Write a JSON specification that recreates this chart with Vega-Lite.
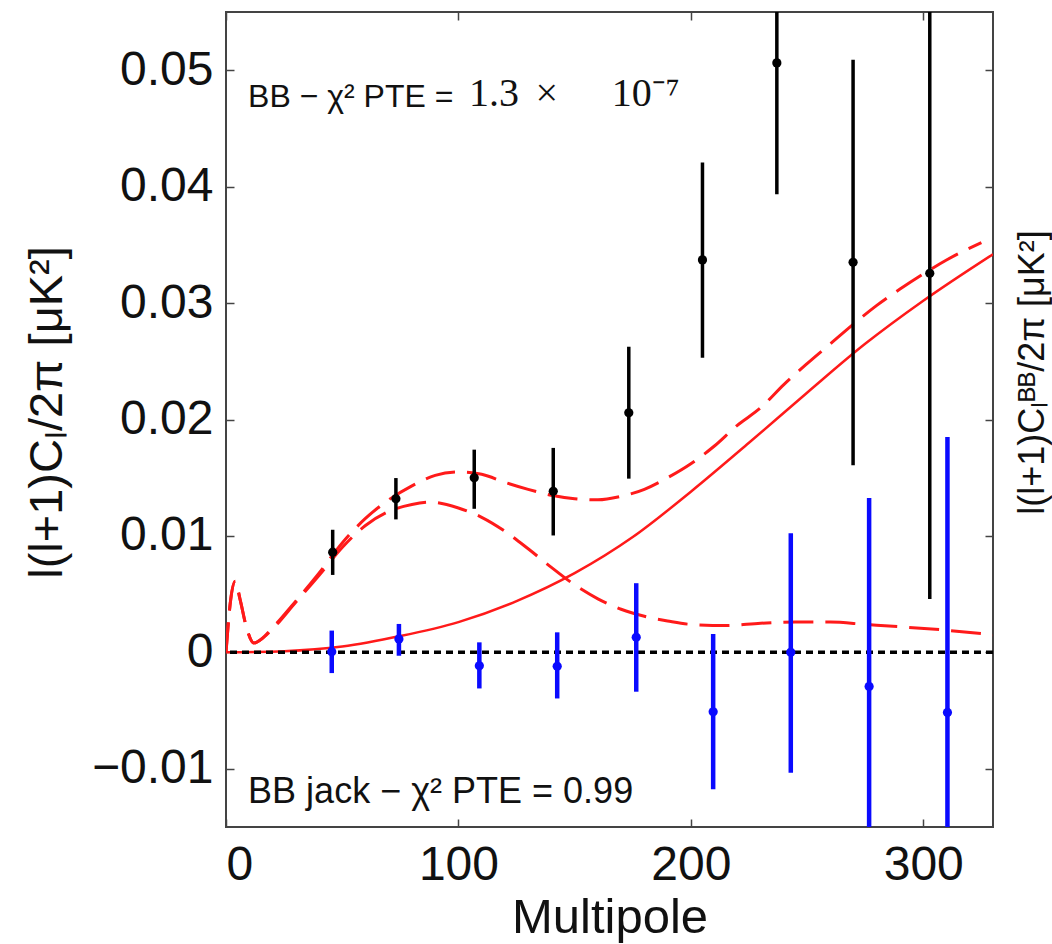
{
  "$schema": "https://vega.github.io/schema/vega-lite/v6.json",
  "width": 767,
  "height": 815,
  "autosize": "none",
  "padding": {"left": 226, "top": 12, "right": 59, "bottom": 117},
  "background": "white",
  "config": {
    "view": {"stroke": "#444", "strokeWidth": 2},
    "font": "Liberation Sans",
    "axis": {"grid": false, "domain": false, "tickColor": "#444", "tickWidth": 1.5, "tickSize": -8, "labelFont": "Liberation Sans", "titleFont": "Liberation Sans", "labelColor": "#111", "titleColor": "#111", "titleFontWeight": "normal"}
  },
  "datasets": {
    "one": [{"k": 1}],
    "solid": [
      {"ell": 0, "cl": 0}, {"ell": 25, "cl": 0.0001}, {"ell": 50, "cl": 0.0005}, {"ell": 75, "cl": 0.0014},
      {"ell": 100, "cl": 0.0026}, {"ell": 125, "cl": 0.0044}, {"ell": 150, "cl": 0.0068}, {"ell": 175, "cl": 0.0099},
      {"ell": 200, "cl": 0.0138}, {"ell": 225, "cl": 0.018}, {"ell": 250, "cl": 0.0223}, {"ell": 275, "cl": 0.0265},
      {"ell": 300, "cl": 0.0302}, {"ell": 330, "cl": 0.0342}
    ],
    "tensor": [
      {"ell": 0, "cl": 0}, {"ell": 2, "cl": 0.0045}, {"ell": 4, "cl": 0.0061}, {"ell": 6, "cl": 0.0046},
      {"ell": 9, "cl": 0.002}, {"ell": 12, "cl": 0.0008}, {"ell": 15, "cl": 0.0011}, {"ell": 20, "cl": 0.002},
      {"ell": 30, "cl": 0.0043}, {"ell": 40, "cl": 0.0066}, {"ell": 50, "cl": 0.009}, {"ell": 60, "cl": 0.0109},
      {"ell": 70, "cl": 0.0121}, {"ell": 80, "cl": 0.0127}, {"ell": 88, "cl": 0.0129}, {"ell": 100, "cl": 0.0124},
      {"ell": 110, "cl": 0.0116}, {"ell": 120, "cl": 0.0104}, {"ell": 130, "cl": 0.0089}, {"ell": 140, "cl": 0.0073},
      {"ell": 150, "cl": 0.0058}, {"ell": 160, "cl": 0.0046}, {"ell": 170, "cl": 0.0037}, {"ell": 180, "cl": 0.0031},
      {"ell": 190, "cl": 0.0027}, {"ell": 200, "cl": 0.0024}, {"ell": 215, "cl": 0.0023}, {"ell": 230, "cl": 0.0025},
      {"ell": 245, "cl": 0.0026}, {"ell": 260, "cl": 0.0026}, {"ell": 275, "cl": 0.0024}, {"ell": 290, "cl": 0.0022},
      {"ell": 310, "cl": 0.0019}, {"ell": 330, "cl": 0.0015}
    ],
    "total": [
      {"ell": 0, "cl": 0}, {"ell": 2, "cl": 0.0045}, {"ell": 4, "cl": 0.0061}, {"ell": 6, "cl": 0.0046},
      {"ell": 9, "cl": 0.002}, {"ell": 12, "cl": 0.0008}, {"ell": 15, "cl": 0.0011}, {"ell": 20, "cl": 0.0021},
      {"ell": 30, "cl": 0.0044}, {"ell": 40, "cl": 0.0068}, {"ell": 50, "cl": 0.0094}, {"ell": 60, "cl": 0.0115},
      {"ell": 70, "cl": 0.0131}, {"ell": 80, "cl": 0.0143}, {"ell": 90, "cl": 0.0152}, {"ell": 100, "cl": 0.0155},
      {"ell": 110, "cl": 0.0153}, {"ell": 120, "cl": 0.0146}, {"ell": 130, "cl": 0.014}, {"ell": 140, "cl": 0.0135},
      {"ell": 150, "cl": 0.0132}, {"ell": 160, "cl": 0.0131}, {"ell": 170, "cl": 0.0134}, {"ell": 180, "cl": 0.014},
      {"ell": 190, "cl": 0.015}, {"ell": 200, "cl": 0.0162}, {"ell": 210, "cl": 0.0177}, {"ell": 220, "cl": 0.0195},
      {"ell": 230, "cl": 0.021}, {"ell": 240, "cl": 0.023}, {"ell": 250, "cl": 0.0248}, {"ell": 260, "cl": 0.0265},
      {"ell": 270, "cl": 0.0282}, {"ell": 280, "cl": 0.0298}, {"ell": 290, "cl": 0.0312}, {"ell": 300, "cl": 0.0325},
      {"ell": 310, "cl": 0.0337}, {"ell": 325, "cl": 0.0352}
    ],
    "bb": [
      {"ell": 45.9, "cl": 0.0086, "lo": 0.00665, "hi": 0.01053},
      {"ell": 73.1, "cl": 0.0132, "lo": 0.01142, "hi": 0.01497},
      {"ell": 106.8, "cl": 0.015, "lo": 0.01233, "hi": 0.01741},
      {"ell": 140.8, "cl": 0.01383, "lo": 0.01004, "hi": 0.01756},
      {"ell": 173.3, "cl": 0.02057, "lo": 0.01492, "hi": 0.02625},
      {"ell": 205.0, "cl": 0.03371, "lo": 0.0253, "hi": 0.04208},
      {"ell": 237.0, "cl": 0.05063, "lo": 0.03935, "hi": 0.0619},
      {"ell": 269.8, "cl": 0.0335, "lo": 0.01606, "hi": 0.0509},
      {"ell": 302.8, "cl": 0.03256, "lo": 0.00459, "hi": 0.0605}
    ],
    "jack": [
      {"ell": 45.5, "cl": 0.00006, "lo": -0.00178, "hi": 0.00187},
      {"ell": 74.4, "cl": 0.00115, "lo": -0.00029, "hi": 0.00244},
      {"ell": 109.0, "cl": -0.00115, "lo": -0.0031, "hi": 0.00086},
      {"ell": 142.5, "cl": -0.0012, "lo": -0.00396, "hi": 0.00172},
      {"ell": 176.5, "cl": 0.00129, "lo": -0.00338, "hi": 0.00594},
      {"ell": 209.6, "cl": -0.0051, "lo": -0.01176, "hi": 0.00158},
      {"ell": 243.0, "cl": 0.0, "lo": -0.01033, "hi": 0.01024},
      {"ell": 276.7, "cl": -0.00293, "lo": -0.0191, "hi": 0.01325},
      {"ell": 310.4, "cl": -0.00516, "lo": -0.0288, "hi": 0.0185}
    ]
  },
  "resolve": {"axis": {"x": "independent", "y": "independent"}},
  "layer": [
    {
      "layer": [
        {
          "data": {"name": "solid"},
          "mark": {"type": "line", "color": "#ff1a1a", "strokeWidth": 2.5, "interpolate": "monotone", "clip": true},
          "encoding": {
            "x": {"field": "ell", "type": "quantitative", "scale": {"domain": [0, 330], "nice": false, "zero": false},
              "axis": {"orient": "bottom", "values": [0, 100, 200, 300], "labelFontSize": 48, "labelPadding": 22, "title": "Multipole", "titleFontSize": 49, "titlePadding": 4}},
            "y": {"field": "cl", "type": "quantitative", "scale": {"domain": [-0.015, 0.055], "nice": false, "zero": false},
              "axis": {"orient": "left", "values": [-0.01, 0, 0.01, 0.02, 0.03, 0.04, 0.05], "format": "~r", "labelFontSize": 48, "labelPadding": 21, "title": "l(l+1)Cₗ/2π [μK²]", "titleFontSize": 47, "titlePadding": 20, "titleY": 400}}
          }
        },
        {
          "data": {"name": "tensor"},
          "mark": {"type": "line", "color": "#ff1a1a", "strokeWidth": 3, "strokeDash": [30, 12], "interpolate": "monotone", "clip": true},
          "encoding": {
            "x": {"field": "ell", "type": "quantitative"},
            "y": {"field": "cl", "type": "quantitative"}
          }
        },
        {
          "data": {"name": "total"},
          "mark": {"type": "line", "color": "#ff1a1a", "strokeWidth": 3, "strokeDash": [30, 12], "interpolate": "monotone", "clip": true},
          "encoding": {
            "x": {"field": "ell", "type": "quantitative"},
            "y": {"field": "cl", "type": "quantitative"}
          }
        },
        {
          "data": {"name": "one"},
          "mark": {"type": "rule", "color": "#000", "strokeWidth": 3.5, "strokeDash": [7, 5]},
          "encoding": {"y": {"datum": 0}}
        },
        {
          "data": {"name": "bb"},
          "mark": {"type": "rule", "color": "#000", "strokeWidth": 3.5, "clip": true},
          "encoding": {
            "x": {"field": "ell", "type": "quantitative"},
            "y": {"field": "lo", "type": "quantitative"},
            "y2": {"field": "hi"}
          }
        },
        {
          "data": {"name": "bb"},
          "mark": {"type": "circle", "color": "#000", "size": 85, "opacity": 1},
          "encoding": {
            "x": {"field": "ell", "type": "quantitative"},
            "y": {"field": "cl", "type": "quantitative"}
          }
        },
        {
          "data": {"name": "jack"},
          "mark": {"type": "rule", "color": "#0a0aff", "strokeWidth": 4.5, "clip": true},
          "encoding": {
            "x": {"field": "ell", "type": "quantitative"},
            "y": {"field": "lo", "type": "quantitative"},
            "y2": {"field": "hi"}
          }
        },
        {
          "data": {"name": "jack"},
          "mark": {"type": "circle", "color": "#0a0aff", "size": 85, "opacity": 1},
          "encoding": {
            "x": {"field": "ell", "type": "quantitative"},
            "y": {"field": "cl", "type": "quantitative"}
          }
        },
        {
          "data": {"name": "one"},
          "mark": {"type": "text", "text": "BB − χ² PTE =", "font": "Liberation Sans", "fontSize": 32, "align": "left", "baseline": "alphabetic", "color": "#111"},
          "encoding": {"x": {"datum": 9.5}, "y": {"datum": 0.0468}}
        },
        {
          "data": {"name": "one"},
          "mark": {"type": "text", "text": "1.3", "font": "Liberation Serif", "fontSize": 40, "align": "left", "baseline": "alphabetic", "color": "#111"},
          "encoding": {"x": {"datum": 104.5}, "y": {"datum": 0.0469}}
        },
        {
          "data": {"name": "one"},
          "mark": {"type": "text", "text": "×", "font": "Liberation Serif", "fontSize": 40, "align": "center", "baseline": "alphabetic", "color": "#111"},
          "encoding": {"x": {"datum": 138}, "y": {"datum": 0.0469}}
        },
        {
          "data": {"name": "one"},
          "mark": {"type": "text", "text": "10⁻⁷", "font": "Liberation Serif", "fontSize": 40, "align": "left", "baseline": "alphabetic", "color": "#111"},
          "encoding": {"x": {"datum": 166}, "y": {"datum": 0.0469}}
        },
        {
          "data": {"name": "one"},
          "mark": {"type": "text", "text": "BB jack − χ² PTE = 0.99", "font": "Liberation Sans", "fontSize": 36, "align": "left", "baseline": "alphabetic", "color": "#111"},
          "encoding": {"x": {"datum": 9.5}, "y": {"datum": -0.0129}}
        }
      ]
    },
    {
      "data": {"name": "one"},
      "mark": {"type": "rule", "opacity": 0},
      "encoding": {
        "x": {"datum": 0, "type": "quantitative", "scale": {"domain": [0, 330], "nice": false, "zero": false},
          "axis": {"orient": "top", "values": [0, 100, 200, 300], "labels": false, "title": null}},
        "y": {"datum": 0, "type": "quantitative", "scale": {"domain": [-0.015, 0.055], "nice": false, "zero": false},
          "axis": {"orient": "right", "values": [-0.01, 0, 0.01, 0.02, 0.03, 0.04, 0.05], "labels": false, "title": "l(l+1)Cₗᴮᴮ/2π [μK²]", "titleFontSize": 36, "titleAngle": 270, "titleBaseline": "top", "titlePadding": 22, "titleY": 360}}
      }
    }
  ]
}
